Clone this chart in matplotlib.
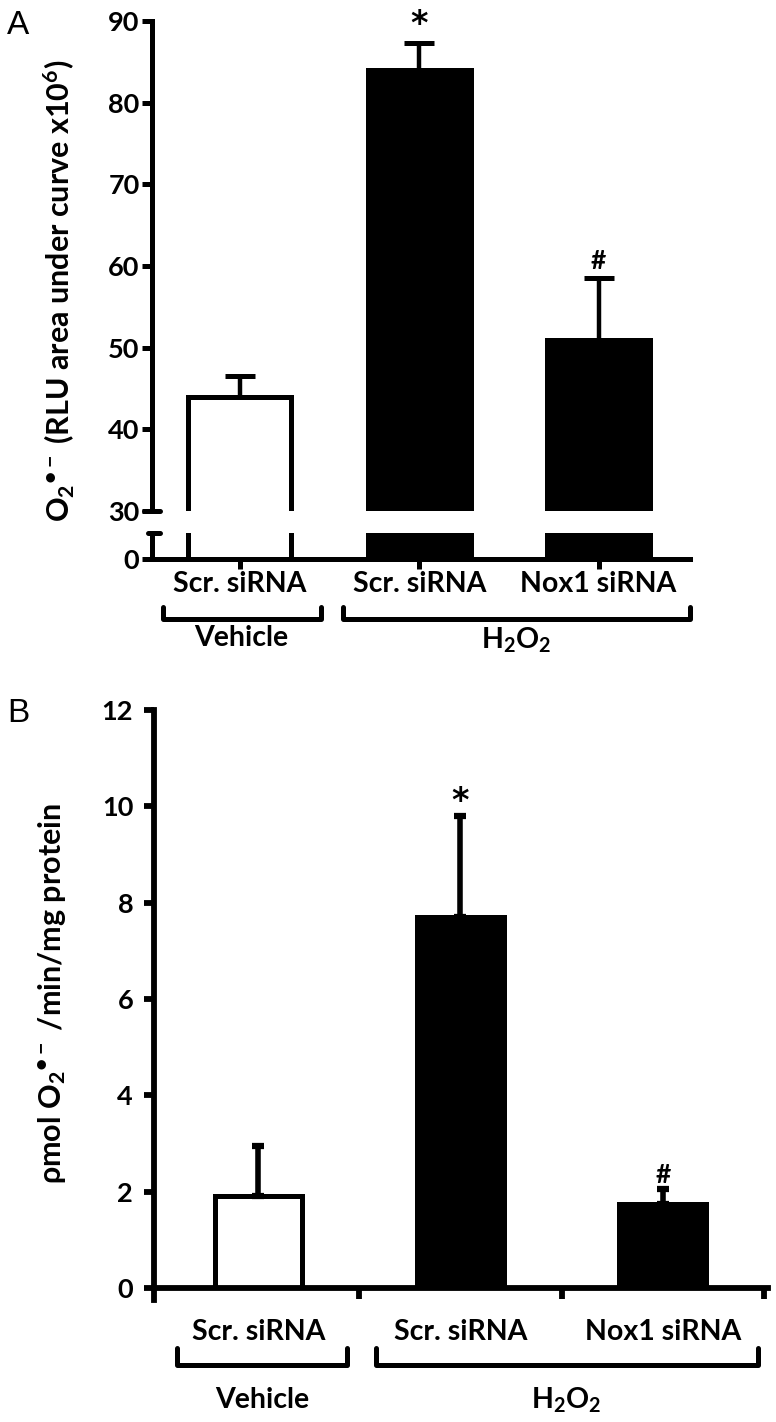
import matplotlib
matplotlib.use("Agg")
import matplotlib.pyplot as plt
import matplotlib.transforms as mtransforms

plt.rcParams['font.family'] = ['Lato', 'DejaVu Sans']
plt.rcParams['font.weight'] = 'bold'
plt.rcParams['mathtext.fontset'] = 'custom'
plt.rcParams['mathtext.rm'] = 'Lato:bold'
plt.rcParams['mathtext.it'] = 'Lato:bold'
plt.rcParams['mathtext.bf'] = 'Lato:bold'

# ---------------- data ----------------
categories = ["Scr. siRNA", "Scr. siRNA", "Nox1 siRNA"]
groups = ["Vehicle", "H$_2$O$_2$"]
a_values = [44, 84, 51]
a_errors = [2.5, 3.3, 7.5]
a_marks = ["", "*", "#"]
b_values = [1.9, 7.7, 1.75]
b_errors = [1.05, 2.1, 0.3]
b_marks = ["", "*", "#"]
bar_fill = ["white", "black", "black"]
a_yticks_top = [30, 40, 50, 60, 70, 80, 90]
b_yticks = [0, 2, 4, 6, 8, 10, 12]

W, H = 776, 1422
fig = plt.figure(figsize=(W / 100, H / 100), dpi=100)

def rect(x0, y0, x1, y1):
    return [x0 / W, 1 - y1 / H, (x1 - x0) / W, (y1 - y0) / H]

LW = 3.6
FS_TICK = 19.5
FS_LAB = 20.5
x = list(range(len(categories)))

# ---------------- Panel A ----------------
axT = fig.add_axes(rect(152, 21, 690, 511))
axB = fig.add_axes(rect(152, 533, 690, 559))
xlimA = (-0.49, 2.51)
for ax in (axT, axB):
    ax.bar(x, a_values, width=0.575, color=bar_fill, edgecolor="black",
           linewidth=LW, zorder=2)
    ax.set_xlim(*xlimA)
    for s in ("top", "right"):
        ax.spines[s].set_visible(False)
    ax.spines["left"].set_linewidth(LW)
    ax.spines["bottom"].set_linewidth(LW)
    ax.tick_params(width=LW, length=7, labelsize=FS_TICK, pad=2)
axT.errorbar(x, a_values, yerr=[[0] * 3, a_errors], fmt="none", ecolor="black",
             elinewidth=3.2, capsize=10.5, capthick=LW, zorder=3)
axT.set_ylim(30, 90)
axT.set_yticks(a_yticks_top)
axT.spines["bottom"].set_visible(False)
axT.tick_params(axis="x", bottom=False, labelbottom=False)
for xi, v, e, m in zip(x, a_values, a_errors, a_marks):
    if m == "*":
        axT.text(xi, v + e + 0.2, m, ha="center", va="bottom", fontsize=24,
                 fontweight="bold", family="DejaVu Sans")
    elif m:
        axT.text(xi, v + e + 0.6, m, ha="center", va="bottom", fontsize=19,
                 fontweight="bold")
axB.set_ylim(0, 26 / 8.2)
axB.set_yticks([0])
axB.set_xticks(x)
axB.set_xticklabels(categories, fontsize=FS_LAB)
axB.tick_params(axis="x", length=7, pad=2)
# break marks
axT.plot([-0.015, 0.015], [0, 0], transform=axT.transAxes, color="black",
         lw=LW, clip_on=False, solid_capstyle="round")
axB.plot([-0.008, 0.015], [1, 1], transform=axB.transAxes, color="black",
         lw=LW, clip_on=False, solid_capstyle="round")
axT.set_ylabel(r"O$_2$$^{\mathrm{•−}}$ (RLU area under curve x10$^6$)",
               fontsize=22, fontweight="bold")
axT.yaxis.set_label_coords(-0.14, 0.45)

def bracket(ax, x0, x1, ytop, ybot, label, ylab, h_ax_px, y0_px):
    tr = mtransforms.blended_transform_factory(ax.transData, ax.transAxes)
    f = lambda yp: (y0_px - yp) / h_ax_px
    ax.plot([x0, x0, x1, x1], [f(ytop), f(ybot), f(ybot), f(ytop)],
            transform=tr, color="black", lw=LW, clip_on=False,
            solid_joinstyle="round", solid_capstyle="round")
    ax.text((x0 + x1) / 2, f(ylab), label, transform=tr, ha="center",
            va="center", fontsize=FS_LAB, fontweight="bold")

bracket(axB, -0.43, 0.45, 607, 619, groups[0], 638, 26, 559)
bracket(axB, 0.575, 2.51, 607, 619, groups[1], 640, 26, 559)

fig.text(7 / W, 1 - 25 / H, "A", fontsize=24, fontweight="normal",
         va="center", ha="left", family="Liberation Sans")

# ---------------- Panel B ----------------
axC = fig.add_axes(rect(154, 710, 768, 1288))
axC.bar(x, b_values, width=0.43, color=bar_fill, edgecolor="black",
        linewidth=LW, zorder=2)
axC.errorbar(x, b_values, yerr=[[0] * 3, b_errors], fmt="none", ecolor="black",
             elinewidth=4, capsize=4, capthick=4.5, zorder=3)
axC.set_xlim(-0.515, 2.52)
axC.set_ylim(0, 12)
axC.set_yticks(b_yticks)
for s in ("top", "right"):
    axC.spines[s].set_visible(False)
axC.spines["left"].set_linewidth(4.2)
axC.spines["bottom"].set_linewidth(4.2)
axC.spines["left"].set_bounds(-0.25, 12)
axC.tick_params(axis="y", width=4.2, length=7, labelsize=FS_TICK, pad=8)
axC.set_xticks([0.5, 1.5, 2.5])
axC.tick_params(axis="x", which="major", width=4.2, length=8,
                labelbottom=False)
axC.set_xticks(x, minor=True)
axC.set_xticklabels(categories, minor=True, fontsize=FS_LAB)
axC.tick_params(axis="x", which="minor", length=0, pad=22)
for xi, v, e, m in zip(x, b_values, b_errors, b_marks):
    if m == "*":
        axC.text(xi, v + e - 0.05, m, ha="center", va="bottom", fontsize=24,
                 fontweight="bold", family="DejaVu Sans")
    elif m:
        axC.text(xi, v + e + 0.05, m, ha="center", va="bottom", fontsize=19,
                 fontweight="bold")
axC.set_ylabel(r"ρmol O$_2$$^{\mathrm{•−}}$ /min/mg protein", fontsize=22,
               fontweight="bold")
axC.yaxis.set_label_coords(-0.14, 0.51)
bracket(axC, -0.4, 0.44, 1348, 1365, groups[0], 1400, 578, 1288)
bracket(axC, 0.58, 2.47, 1348, 1365, groups[1], 1400, 578, 1288)
fig.text(7 / W, 1 - 714 / H, "B", fontsize=24, fontweight="normal",
         va="center", ha="left", family="Liberation Sans")

fig.savefig("out.png", dpi=100)
